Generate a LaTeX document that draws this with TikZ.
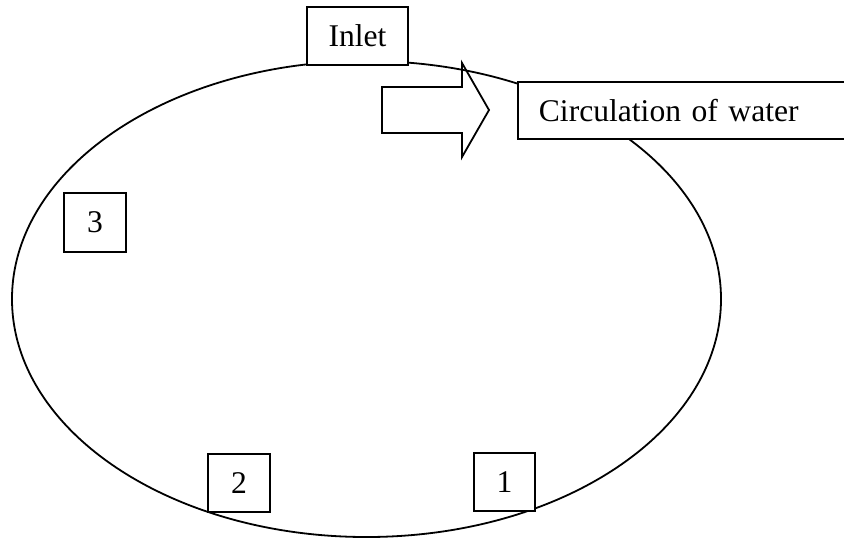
\documentclass[tikz,border=0pt]{standalone}
\usepackage{fontspec}
\setmainfont{Liberation Serif}
\begin{document}
\begin{tikzpicture}[x=0.5pt,y=-0.5pt,line width=0.9pt,
  box/.style={draw,fill=white,font=\fontsize{15.8}{19}\selectfont,inner sep=0pt}]
\useasboundingbox (0,0) rectangle (844,538);
\clip (0,0) rectangle (844,538);
\draw (366.5,299) ellipse [x radius=177.25pt, y radius=119pt];
\draw[line join=miter] (382,87) -- (462,87) -- (462,63) -- (489,110) -- (462,157) -- (462,133) -- (382,133) -- cycle;
\node[box,minimum width=50.5pt,minimum height=29pt] (inlet) at (357.5,36) {Inlet};
\node[box,anchor=west,inner xsep=10.5pt,text width=150pt,minimum height=28.5pt,align=left] (circ) at (517,110.5) {Circulation of water};
\node[box,minimum width=31pt,minimum height=29.5pt] (n3) at (95,222.5) {3};
\node[box,minimum width=31pt,minimum height=29pt] (n2) at (239,483) {2};
\node[box,minimum width=30.5pt,minimum height=29pt] (n1) at (504.5,482) {1};
\end{tikzpicture}
\end{document}
